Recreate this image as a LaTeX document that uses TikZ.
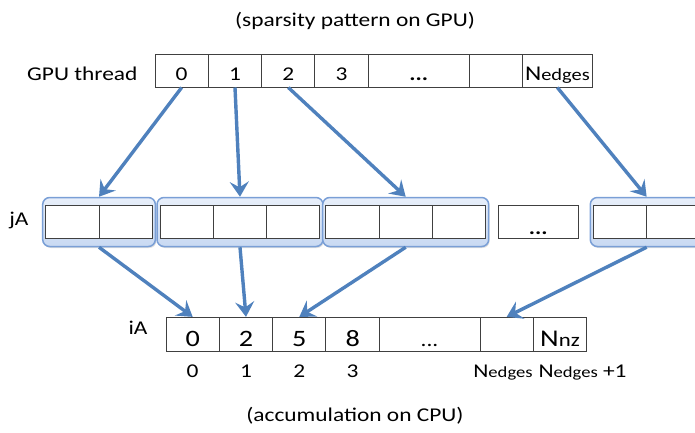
\documentclass[tikz,border=0pt]{standalone}
\usepackage{fontspec}
\setmainfont{Carlito}[FakeStretch=1.2]
\usetikzlibrary{arrows.meta,fit,backgrounds,shadows}

\definecolor{arrowblue}{HTML}{4F81BD}
\definecolor{grptop}{HTML}{E8EFFA}
\definecolor{grpbot}{HTML}{C8D9F2}
\definecolor{grpline}{HTML}{7A9FD6}

\newcommand{\Nsub}[2]{N{\fontsize{#2}{#2}\selectfont #1}}

\tikzset{
  cell/.style={draw=black!75, line width=1pt, fill=white, inner sep=0pt,
    minimum height=33pt, text height=20pt, text depth=0pt},
  grp/.style={draw=grpline, line width=1.5pt, rounded corners=7pt,
    top color=grptop, bottom color=grpbot, inner xsep=2.5pt, inner ysep=7.5pt,
    drop shadow={opacity=0.25, shadow xshift=1pt, shadow yshift=-1.5pt}},
  link/.style={draw=arrowblue, line width=3.4pt,
    -{Stealth[length=15pt,width=19pt,inset=5.5pt]}}
}

\begin{document}
\begin{tikzpicture}[x=1pt,y=-1pt,font=\fontsize{19.5}{22}\selectfont]
\useasboundingbox (0,0) rectangle (695,432);
\pgfmathsetmacro{\W}{53.33}

\node (title) at (355,21) {(sparsity pattern on GPU)};
\node[anchor=base east] (gpu) at (141,80.5) {GPU thread};
\foreach \i in {0,...,3}
  \node[cell, minimum width=\W pt] (t\i) at ({155+(\i+0.5)*\W},70.5) {\i};
\node[cell, minimum width=101.5pt] (tdots) at (418.75,70.5) {\textbf{...}};
\node[cell, minimum width=53.2pt] (tblank) at (496.1,70.5) {};
\node[cell, minimum width=69.3pt] (tN) at (557.35,70.5)
  {\fontsize{21}{21}\selectfont\Nsub{edges}{17}};

\node[anchor=base east] (ja) at (32,225.7) {jA};
\foreach \i in {0,1}
  \node[cell, minimum width=\W pt] (ja\i) at ({45.7+(\i+0.5)*\W},222) {};
\foreach \i in {0,1,2}
  \node[cell, minimum width=\W pt] (jb\i) at ({160+(\i+0.5)*\W},222) {};
\foreach \i in {0,1,2}
  \node[cell, minimum width=\W pt] (jc\i) at ({325.7+(\i+0.5)*\W},222) {};
\node[cell, minimum width=80pt, text height=24pt] (jdots) at (538.3,222) {\textbf{...}};
\foreach \i in {0,1}
  \node[cell, minimum width=\W pt] (jd\i) at ({593.3+(\i+0.5)*\W},222) {};
\begin{scope}[on background layer]
  \node[grp, fit=(ja0)(ja1)] (g1) {};
  \node[grp, fit=(jb0)(jb2)] (g2) {};
  \node[grp, fit=(jc0)(jc2)] (g3) {};
  \node[grp, fit=(jd0)(jd1)] (g4) {};
\end{scope}

\node[anchor=base east] (ia) at (151,334) {iA};
\foreach \i/\v in {0/0,1/2,2/5,3/8}
  \node[cell, minimum width=\W pt, minimum height=33.7pt, text height=25pt,
    font=\fontsize{23.5}{25}\selectfont] (i\i) at ({166+(\i+0.5)*\W},334.2) {\v};
\node[cell, minimum width=101pt, minimum height=33.7pt, text height=25pt] (idots) at (429.5,334.2) {...};
\node[cell, minimum width=\W pt, minimum height=33.7pt] (iblank) at (506.7,334.2) {};
\node[cell, minimum width=\W pt, minimum height=33.7pt, text height=25pt] (iN) at (560,334.2)
  {\fontsize{24}{24}\selectfont\Nsub{nz}{19}};

\foreach \i in {0,...,3}
  \node[anchor=base] (n\i) at ({166+(\i+0.5)*\W},377.3) {\i};
\node[anchor=base] (nE) at (503,377.3) {\Nsub{edges}{15.5}};
\node[anchor=base west] (nE1) at (535,377.3) {\Nsub{edges}{15.5} +1};
\node (bottom) at (355,416) {(accumulation on CPU)};

\draw[link] (t0.south) -- (g1.north);
\draw[link] (t1.south) -- (g2.north);
\draw[link] (t2.south) -- (g3.north);
\draw[link] (tN.south) -- (g4.north);
\draw[link] (g1.south) -- (i0.north);
\draw[link] (g2.south) -- (i1.north);
\draw[link] (g3.south) -- (i2.north);
\draw[link] (g4.south) -- (iblank.north);
\end{tikzpicture}
\end{document}
